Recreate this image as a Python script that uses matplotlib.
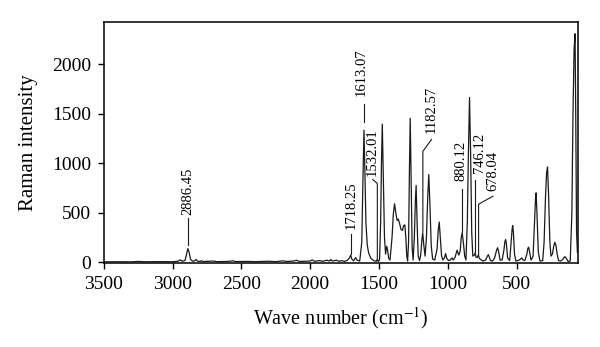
import matplotlib
matplotlib.use("Agg")
import matplotlib.pyplot as plt

plt.rcParams['font.family'] = ['Liberation Serif', 'DejaVu Serif']
plt.rcParams['mathtext.fontset'] = 'stix'

# --- spectrum (wave number, intensity) ---
wavenumber = [
    3500, 3400, 3300, 3250, 3200, 3100, 3000, 2960, 2945, 2930, 2910, 2900,
    2889, 2880, 2870, 2855, 2840, 2830, 2820, 2800, 2790, 2780, 2700, 2680,
    2600, 2560, 2540, 2450, 2400, 2300, 2250, 2200, 2170, 2120, 2100, 2080,
    2000, 1985, 1970, 1930, 1910, 1880, 1860, 1850, 1840, 1810, 1790, 1770,
    1750, 1730, 1715, 1706, 1697, 1685, 1670, 1660, 1640, 1625, 1617, 1609,
    1602, 1595, 1585, 1575, 1560, 1545, 1530, 1518, 1512, 1505, 1496, 1488,
    1482, 1476, 1468, 1460, 1452, 1444, 1437, 1430, 1420, 1405, 1396, 1387,
    1378, 1368, 1360, 1352, 1340, 1330, 1320, 1312, 1305, 1298, 1292, 1285,
    1279, 1273, 1266, 1259, 1252, 1243, 1236, 1230, 1223, 1215, 1205, 1196,
    1188, 1182, 1175, 1165, 1155, 1146, 1138, 1129, 1120, 1110, 1095, 1078,
    1069, 1062, 1054, 1045, 1035, 1025, 1016, 1008, 995, 982, 970, 960,
    948, 932, 920, 910, 902, 895, 887, 877, 868, 858, 850, 842,
    834, 826, 818, 808, 801, 795, 787, 778, 770, 755, 745, 725,
    712, 705, 698, 690, 675, 660, 645, 638, 631, 620, 605, 592,
    585, 580, 575, 565, 550, 540, 532, 528, 523, 515, 505, 490,
    475, 463, 455, 440, 425, 418, 412, 405, 395, 380, 370, 362,
    358, 352, 342, 330, 310, 300, 290, 282, 275, 268, 258, 250,
    240, 230, 222, 214, 205, 195, 180, 165, 150, 140, 125, 110,
    98, 90, 82, 75, 70, 64, 58,
]
intensity = [
    2, 3, 2, 6, 3, 4, 3, 8, 22, 8, 15, 70,
    136, 100, 30, 8, 12, 26, 10, 6, 14, 5, 10, 4,
    6, 12, 5, 6, 4, 8, 4, 12, 6, 10, 18, 6,
    10, 22, 8, 14, 8, 18, 10, 26, 10, 18, 8, 14,
    6, 18, 40, 70, 30, 12, 45, 20, 10, 200, 800, 1335,
    900, 400, 170, 90, 40, 20, 10, 8, 28, 6, 20, 400,
    1000, 1395, 800, 250, 80, 160, 120, 40, 20, 250, 480, 590,
    500, 420, 435, 400, 330, 320, 370, 375, 250, 60, 10, 200,
    900, 1455, 800, 150, 20, 250, 600, 775, 400, 60, 15, 80,
    230, 295, 180, 60, 250, 650, 885, 550, 160, 30, 20, 130,
    330, 405, 250, 60, 20, 40, 85, 40, 15, 20, 42, 20,
    45, 120, 70, 110, 250, 295, 200, 60, 20, 400, 1100, 1665,
    1100, 300, 60, 70, 92, 50, 45, 72, 35, 20, 10, 20,
    60, 75, 50, 15, 10, 40, 120, 145, 110, 20, 20, 120,
    205, 228, 200, 40, 15, 200, 340, 368, 300, 80, 10, 15,
    25, 42, 25, 15, 80, 140, 150, 100, 20, 60, 400, 650,
    700, 500, 100, 10, 15, 200, 650, 900, 962, 700, 200, 60,
    80, 160, 200, 170, 80, 15, 10, 25, 55, 40, 5, 10,
    500, 1500, 2150, 2310, 1500, 300, 100,
]

peak_labels = ['2886.45', '1718.25', '1613.07', '1532.01',
               '1182.57', '880.12', '746.12', '678.04']

fig = plt.figure(figsize=(6.0, 3.47), dpi=100)
ax = fig.add_axes([0.173, 0.242, 0.79, 0.695])

ax.plot(wavenumber, intensity, color='#1a1a1a', linewidth=0.9)

# leader lines: (text x, text bottom), then the line path
label_layout = [
    (2889, 480, [(2889, 448), (2889, 175)]),
    (1704, 330, [(1704, 280), (1704, 78)]),
    (1626, 1680, [(1610, 1595), (1610, 1413)]),
    (1546, 870, [(1546, 835), (1512, 795), (1512, 28)]),
    (1118, 1310, [(1118, 1240), (1181, 1120), (1181, 305)]),
    (905, 815, [(895, 734), (895, 300)]),
    (767, 905, [(801, 835), (801, 100)]),
    (672, 715, [(672, 666), (776, 585), (776, 75)]),
]
for text, (tx, ty, path) in zip(peak_labels, label_layout):
    ax.text(tx, ty, text, rotation=90, ha='center', va='bottom', fontsize=10.5)
    xs = [p[0] for p in path]
    ys = [p[1] for p in path]
    ax.plot(xs, ys, color='#1a1a1a', linewidth=0.8)

ax.set_xlim(3500, 55)
ax.set_ylim(-10, 2430)
ax.set_xticks([3500, 3000, 2500, 2000, 1500, 1000, 500])
ax.set_yticks([0, 500, 1000, 1500, 2000])
ax.tick_params(direction='out', length=4, width=1, labelsize=14, pad=5,
               top=False, right=False)
for s in ax.spines.values():
    s.set_linewidth(1.1)

ax.set_xlabel('Wave number (cm$^{-1}$)', fontsize=14.5, labelpad=9)
ax.set_ylabel('Raman intensity', fontsize=15, labelpad=10)

fig.savefig('out.png', dpi=100)
